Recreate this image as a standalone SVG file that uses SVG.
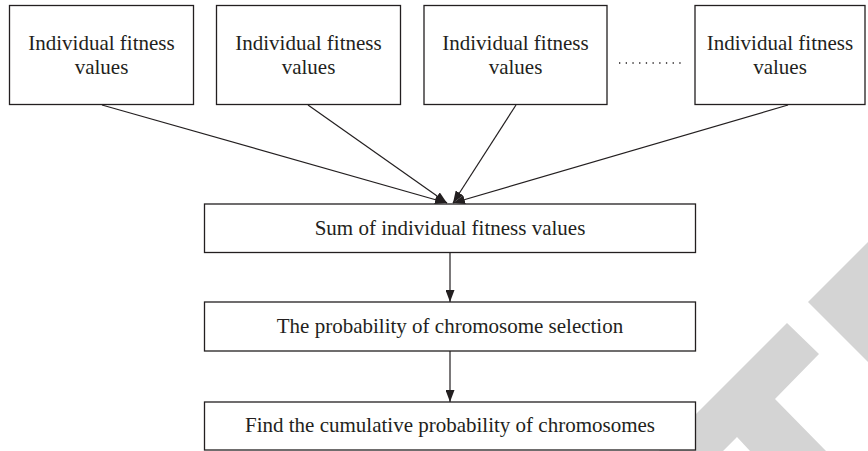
<svg xmlns="http://www.w3.org/2000/svg" width="868" height="451" viewBox="0 0 868 451">
  <defs>
    <marker id="arrow" markerUnits="userSpaceOnUse" markerWidth="12" markerHeight="9" refX="12" refY="4.5" orient="auto">
      <path d="M0,0 L12,4.5 L0,9 Z" fill="#231f20"/>
    </marker>
    <style>
      .box { fill: #ffffff; stroke: #231f20; stroke-width: 1.3; }
      .label { font-family: "Liberation Serif", "Times New Roman", serif; font-size: 21px; fill: #231f20; text-anchor: middle; }
      .edge { fill: none; stroke: #231f20; stroke-width: 1.2; marker-end: url(#arrow); }
      .mark { fill: #d4d4d4; }
    </style>
  </defs>

  <rect width="868" height="451" fill="#ffffff"/>

  <!-- light grey corner mark -->
  <g id="corner-mark">
    <polygon class="mark" points="787,323 819,354 775,399 826,451 750,451 737,437 723,451 659,451"/>
    <polygon class="mark" points="808,302 868,242 868,362"/>
  </g>

  <!-- connectors -->
  <g id="connectors">
    <line class="edge" x1="102" y1="105" x2="447" y2="203"/>
    <line class="edge" x1="308" y1="105" x2="447" y2="203"/>
    <line class="edge" x1="516" y1="105" x2="453" y2="203"/>
    <line class="edge" x1="788" y1="105" x2="453" y2="203"/>
    <line class="edge" x1="450" y1="252" x2="450" y2="302"/>
    <line class="edge" x1="450" y1="351" x2="450" y2="402"/>
    <line id="ellipsis" x1="619" y1="63" x2="681" y2="63" stroke="#231f20" stroke-width="1.3" stroke-dasharray="1.3 5.4"/>
  </g>

  <g id="fitness-1">
    <rect class="box" x="9.5" y="5.5" width="184" height="99"/>
    <text class="label" x="101.5" y="50">Individual fitness</text>
    <text class="label" x="101.5" y="74">values</text>
  </g>
  <g id="fitness-2">
    <rect class="box" x="216.5" y="5.5" width="184" height="99"/>
    <text class="label" x="308.5" y="50">Individual fitness</text>
    <text class="label" x="308.5" y="74">values</text>
  </g>
  <g id="fitness-3">
    <rect class="box" x="424" y="5.5" width="183" height="99"/>
    <text class="label" x="515.5" y="50">Individual fitness</text>
    <text class="label" x="515.5" y="74">values</text>
  </g>
  <g id="fitness-n">
    <rect class="box" x="695" y="5.5" width="170" height="99"/>
    <text class="label" x="780" y="50">Individual fitness</text>
    <text class="label" x="780" y="74">values</text>
  </g>

  <g id="sum">
    <rect class="box" x="204.5" y="204" width="491" height="48.5"/>
    <text class="label" x="450" y="235">Sum of individual fitness values</text>
  </g>
  <g id="selection-probability">
    <rect class="box" x="204.5" y="302" width="491" height="49"/>
    <text class="label" x="450" y="333">The probability of chromosome selection</text>
  </g>
  <g id="cumulative-probability">
    <rect class="box" x="204.5" y="402" width="491" height="48"/>
    <text class="label" x="450" y="432">Find the cumulative probability of chromosomes</text>
  </g>
</svg>
